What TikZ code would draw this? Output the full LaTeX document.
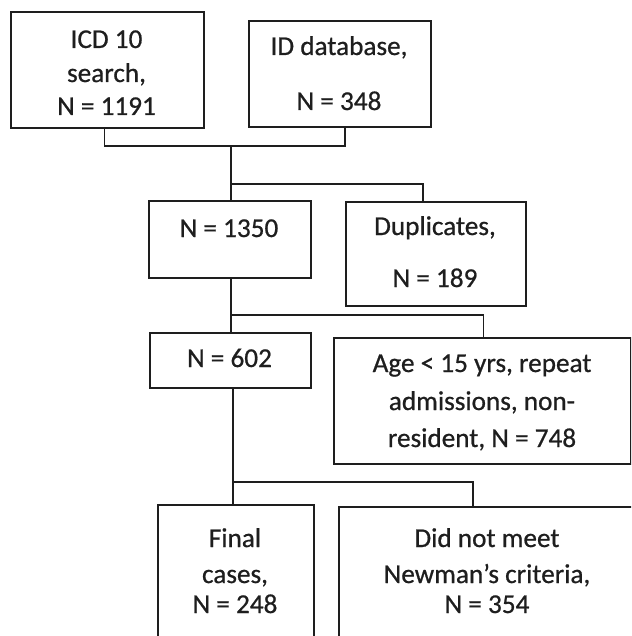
\documentclass[tikz,border=0pt]{standalone}
\usepackage{fontspec}
\setmainfont{Carlito}[FakeBold=0.7]
\definecolor{ink}{HTML}{1E1E1E}
\begin{document}
\begin{tikzpicture}[x=1pt,y=-1pt,
  box/.style={draw=ink,line width=1.9pt,anchor=north west,inner sep=0pt},
  txt/.style={anchor=base,inner sep=0pt,text=ink,font=\fontsize{27.2}{30}\selectfont},
  conn/.style={draw=ink,line width=1.2pt}]
\useasboundingbox (0,0) rectangle (631,636);
\clip (0,0) rectangle (631,636);
% boxes
\node[box,minimum width=193pt,minimum height=116pt] (icd) at (10,11) {};
\node[box,minimum width=182pt,minimum height=106pt] (iddb) at (248,20) {};
\node[box,minimum width=162pt,minimum height=77pt] (n1350) at (148,200) {};
\node[box,minimum width=180pt,minimum height=104pt] (dup) at (345,201) {};
\node[box,minimum width=161pt,minimum height=55pt] (n602) at (149,332) {};
\node[box,minimum width=297pt,minimum height=126pt] (age) at (333,337) {};
\node[box,minimum width=156pt,minimum height=160pt] (final) at (157,504) {};
\node[box,minimum width=298pt,minimum height=160pt] (dnm) at (338,506) {};
% texts
\node[txt] (icd1) at (106.5,48) {ICD 10};
\node[txt] (icd2) at (106.5,82) {search,};
\node[txt] (icd3) at (106.5,115) {N = 1191};
\node[txt] (idd1) at (339,55) {ID database,};
\node[txt] (idd2) at (339,110) {N = 348};
\node[txt] (t1350) at (229,237) {N = 1350};
\node[txt] (dup1) at (435,235) {Duplicates,};
\node[txt] (dup2) at (435,287) {N = 189};
\node[txt] (t602) at (229.5,367) {N = 602};
\node[txt] (age1) at (482,372) {Age < 15 yrs, repeat};
\node[txt] (age2) at (482,410) {admissions, non-};
\node[txt] (age3) at (482,447) {resident, N = 748};
\node[txt] (fin1) at (235,547) {Final};
\node[txt] (fin2) at (235,583) {cases,};
\node[txt] (fin3) at (235,613) {N = 248};
\node[txt] (dnm1) at (487,547) {Did not meet};
\node[txt] (dnm2) at (487,583) {Newman’s criteria,};
\node[txt] (dnm3) at (487,613) {N = 354};
% junctions
\coordinate (j1) at (231,146);
\coordinate (b1) at (231,184);
\coordinate (b2) at (231,315);
\coordinate (b3) at (233,482);
% connectors
\draw[conn] ([xshift=-3pt]icd.south) |- (j1) -| ([xshift=5pt]iddb.south);
\draw[conn] (j1) -- (j1 |- n1350.north);
\draw[conn] (b1) -| ([xshift=-13pt]dup.north);
\draw[conn] (n1350.south -| j1) -- (j1 |- n602.north);
\draw[conn] (b2) -| ([xshift=1pt]age.north);
\draw[conn] (n602.south -| b3) -- (b3 |- final.north);
\draw[conn] (b3) -| ([xshift=-15pt]dnm.north);
\end{tikzpicture}
\end{document}
